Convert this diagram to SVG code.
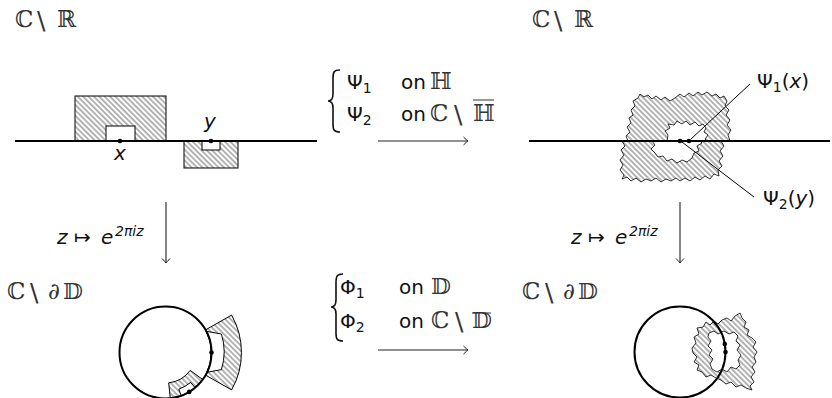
<svg xmlns="http://www.w3.org/2000/svg" width="832" height="398" viewBox="0 0 832 398">
<style>
.bb{font-family:"DejaVu Serif",serif;font-size:23px;fill:#333}
.bs{font-family:"DejaVu Sans",sans-serif;font-size:25px;fill:#333}
.t{font-family:"DejaVu Sans",sans-serif;font-size:20px;fill:#111}
.it{font-style:italic}
.sub{font-size:14px}
.axis{stroke:#000;stroke-width:2;fill:none}
.reg{fill:url(#hatch);stroke:#000;stroke-width:1}
.hole{fill:#fff;stroke:#000;stroke-width:1}
.blob{fill:url(#hatch);stroke:#000;stroke-width:0.8;stroke-linejoin:round}
.bhole{fill:#fff;stroke:#000;stroke-width:0.8;stroke-linejoin:round}
.conn{stroke:#222;stroke-width:1.1;fill:none}
.lead{stroke:#000;stroke-width:1;fill:none}
.brace{stroke:#111;stroke-width:1.6;fill:none}
</style>
<defs>
<pattern id="hatch" patternUnits="userSpaceOnUse" width="3.8" height="4" patternTransform="rotate(-45)">
<line x1="1.9" y1="-1" x2="1.9" y2="5" stroke="#333" stroke-width="0.75"/>
</pattern>
<marker id="to" viewBox="-6 -5 8 10" markerWidth="8" markerHeight="10" refX="0" refY="0" orient="auto" markerUnits="userSpaceOnUse">
<path d="M -4.5,-4 Q -1.2,-0.8 0,0 Q -1.2,0.8 -4.5,4" stroke="#222" stroke-width="1" fill="none"/>
</marker>
</defs>

<g id="top-left">
<text class="bb" y="27"><tspan x="15">ℂ</tspan><tspan class="bs" x="37" dy="2">\</tspan><tspan x="57" dy="-2">ℝ</tspan></text>
<rect class="reg" x="75" y="96" width="91" height="45"/>
<rect class="hole" x="106" y="126" width="29" height="15"/>
<rect class="reg" x="184" y="141" width="54" height="27"/>
<rect class="hole" x="202" y="141" width="18" height="9"/>
<line class="axis" x1="15" y1="141" x2="317" y2="141"/>
<circle cx="120" cy="141" r="2.3" fill="#000"/>
<circle cx="211" cy="141" r="2.3" fill="#000"/>
<text class="t it" x="114" y="160">x</text>
<text class="t it" x="204" y="128">y</text>
</g>

<g id="top-map">
<path class="brace" d="M 340,70 C 334,70 333,72 333,78 L 333,94 C 333,99 331,101 328,101 C 331,101 333,103 333,108 L 333,124 C 333,130 334,132 340,132"/>
<text class="t" x="347" y="89">Ψ<tspan class="sub" dy="4">1</tspan></text>
<text class="t" x="401" y="89">on</text>
<text class="bb" x="430" y="89">ℍ</text>
<text class="t" x="347" y="121">Ψ<tspan class="sub" dy="4">2</tspan></text>
<text class="t" x="401" y="121">on</text>
<text class="bb" y="121"><tspan x="430">ℂ</tspan><tspan class="bs" x="454" dy="2">\</tspan><tspan x="473" dy="-2">ℍ</tspan></text>
<line x1="473" y1="100" x2="494" y2="100" stroke="#333" stroke-width="1"/>
</g>

<g id="top-right">
<text class="bb" y="27"><tspan x="532">ℂ</tspan><tspan class="bs" x="554" dy="2">\</tspan><tspan x="574" dy="-2">ℝ</tspan></text>
<path class="blob" d="M 628,141 L 626,136 L 630,132 L 627,127 L 631,123 L 629,118 L 633,115 L 631,110 L 635,106 L 633,101 L 638,98 L 640,94 L 644,97 L 648,95 L 652,99 L 656,96 L 661,100 L 665,97 L 670,101 L 675,98 L 680,94 L 684,97 L 689,93 L 693,96 L 698,92 L 702,95 L 707,92 L 712,96 L 716,94 L 720,98 L 724,96 L 727,101 L 725,106 L 729,110 L 726,115 L 730,120 L 727,125 L 731,130 L 728,135 L 730,141 Z"/>
<path class="bhole" d="M 667,141 L 668,135 L 665,131 L 670,128 L 668,124 L 674,125 L 677,121 L 682,124 L 686,121 L 690,125 L 695,122 L 699,126 L 703,124 L 706,128 L 704,132 L 708,135 L 705,139 L 707,141 Z"/>
<path class="blob" d="M 622,141 L 625,146 L 621,150 L 624,155 L 620,160 L 623,165 L 620,170 L 624,175 L 622,179 L 627,177 L 631,181 L 636,178 L 641,182 L 646,179 L 651,181 L 656,178 L 661,182 L 666,179 L 671,181 L 676,178 L 680,181 L 685,178 L 690,181 L 695,177 L 700,180 L 705,176 L 710,179 L 714,174 L 719,176 L 718,170 L 722,166 L 719,161 L 723,156 L 720,151 L 724,146 L 721,141 Z"/>
<path class="bhole" d="M 652,141 L 655,145 L 651,149 L 655,153 L 658,157 L 663,156 L 667,161 L 672,159 L 677,163 L 682,160 L 687,162 L 692,158 L 694,153 L 699,151 L 697,146 L 702,143 L 700,141 Z"/>
<line class="axis" x1="529" y1="141" x2="830" y2="141"/>
<circle cx="680" cy="141" r="2.3" fill="#000"/>
<circle cx="689" cy="141" r="2.3" fill="#000"/>
<text class="t" x="757" y="88">Ψ<tspan class="sub" dy="4">1</tspan><tspan dy="-4">(</tspan><tspan class="it">x</tspan>)</text>
<text class="t" x="763" y="205">Ψ<tspan class="sub" dy="4">2</tspan><tspan dy="-4">(</tspan><tspan class="it">y</tspan>)</text>
</g>

<g id="left-map-label">
<text class="t" y="244"><tspan class="it" x="57">z</tspan><tspan x="74">↦</tspan><tspan class="it" x="101">e</tspan></text>
<text class="t sub it" x="115" y="236">2πiz</text>
</g>

<g id="right-map-label">
<text class="t" y="244"><tspan class="it" x="571">z</tspan><tspan x="588">↦</tspan><tspan class="it" x="615">e</tspan></text>
<text class="t sub it" x="629" y="236">2πiz</text>
</g>

<g id="bottom-left">
<text class="bb" y="299"><tspan x="7">ℂ</tspan><tspan class="bs" x="30" dy="2">\</tspan><tspan x="48" dy="-2">∂</tspan><tspan x="63">𝔻</tspan></text>
<path class="reg" d="M 205.5,329.9 L 231.6,315.1 A 76 76 0 0 1 231.6,389.9 L 205.5,375.1 A 46 46 0 0 0 205.5,329.9 Z"/>
<path class="hole" d="M 206.3,331.3 L 221.4,334 A 58.5 58.5 0 0 1 221.4,369.6 L 207,372.3 A 46 46 0 0 0 206.3,331.3 Z"/>
<path class="reg" d="M 202.7,379.5 L 190.2,370.4 A 30.5 30.5 0 0 1 168.7,382.8 L 170.3,398.3 A 46 46 0 0 0 202.7,379.5 Z"/>
<path class="hole" d="M 195.1,387.7 L 190.6,382.4 A 39 39 0 0 1 178.8,389.2 L 181.2,395.7 A 46 46 0 0 0 195.1,387.7 Z"/>
<circle class="axis" cx="165.5" cy="352.5" r="46"/>
<circle cx="211.5" cy="352.5" r="2.3" fill="#000"/>
<circle cx="189.2" cy="391.9" r="2.3" fill="#000"/>
</g>

<g id="bottom-map">
<path class="brace" d="M 343,274 C 337,274 336,276 336,283 L 336,300 C 336,305 334,307 331,307 C 334,307 336,309 336,314 L 336,333 C 336,339 337,341 343,341"/>
<text class="t" x="340" y="294">Φ<tspan class="sub" dy="4">1</tspan></text>
<text class="t" x="399" y="294">on</text>
<text class="bb" x="431" y="294">𝔻</text>
<text class="t" x="340" y="328">Φ<tspan class="sub" dy="4">2</tspan></text>
<text class="t" x="399" y="328">on</text>
<text class="bb" y="328"><tspan x="431">ℂ</tspan><tspan class="bs" x="455" dy="2">\</tspan><tspan x="472" dy="-2">𝔻</tspan></text>
<line x1="472" y1="313" x2="491" y2="313" stroke="#333" stroke-width="1"/>
</g>

<g id="bottom-right">
<text class="bb" y="299"><tspan x="522">ℂ</tspan><tspan class="bs" x="545" dy="2">\</tspan><tspan x="563" dy="-2">∂</tspan><tspan x="578">𝔻</tspan></text>
<path class="blob" d="M 692,348 L 696,343 L 694,337 L 699,334 L 697,328 L 703,327 L 706,322 L 710,325 L 714,321 L 718,324 L 722,320 L 727,318 L 731,321 L 735,316 L 740,313 L 742,318 L 746,322 L 744,327 L 749,330 L 747,335 L 752,338 L 756,342 L 753,347 L 757,352 L 754,357 L 756,362 L 752,367 L 755,372 L 751,377 L 754,382 L 750,386 L 752,390 L 746,388 L 741,385 L 736,387 L 731,382 L 726,384 L 721,380 L 716,378 L 711,375 L 706,377 L 702,372 L 697,370 L 699,365 L 694,362 L 697,357 L 693,353 Z"/>
<path class="bhole" d="M 709,333 L 714,331 L 718,334 L 724,331 L 729,334 L 734,332 L 738,336 L 736,341 L 740,345 L 737,350 L 741,355 L 738,360 L 740,365 L 736,369 L 731,367 L 727,372 L 722,369 L 717,372 L 712,369 L 710,364 L 713,359 L 709,355 L 712,350 L 708,346 L 711,341 L 708,337 Z"/>
<circle class="axis" cx="680" cy="352" r="45.5"/>
<circle cx="724.8" cy="344" r="2.3" fill="#000"/>
<circle cx="725.5" cy="352" r="2.3" fill="#000"/>
</g>

<g id="connectors">
<line class="conn" x1="378" y1="141" x2="468" y2="141" marker-end="url(#to)"/>
<line class="conn" x1="378" y1="350" x2="468" y2="350" marker-end="url(#to)"/>
<line class="conn" x1="166" y1="202" x2="166" y2="263" marker-end="url(#to)"/>
<line class="conn" x1="680" y1="202" x2="680" y2="263" marker-end="url(#to)"/>
<line class="lead" x1="691" y1="139" x2="750" y2="84"/>
<line class="lead" x1="682" y1="142" x2="754" y2="197"/>
</g>
</svg>
